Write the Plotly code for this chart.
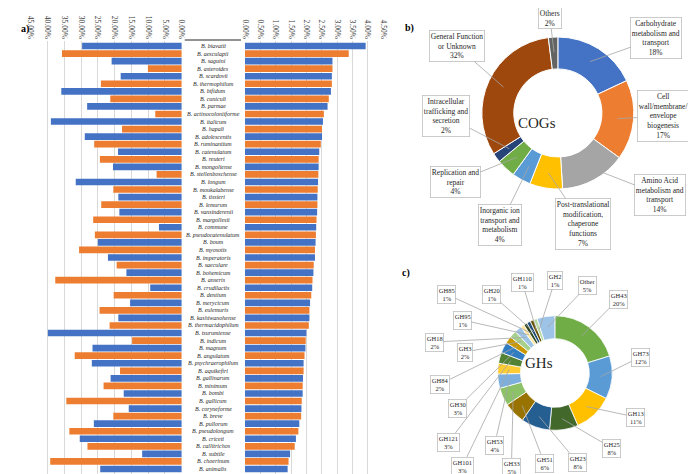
import math
import plotly.graph_objects as go

W, H = 696, 474
FONT = "Liberation Serif"

# ---------------- data: panel a ----------------
species = [
    "B. biavatii", "B. aesculapii", "B. saguini", "B. asteroides", "B. scardovii",
    "B. thermophilum", "B. bifidum", "B. cuniculi", "B. parmae", "B. actinocoloniiforme",
    "B. italicum", "B. hapali", "B. adolescentis", "B. ruminantium", "B. catenulatum",
    "B. reuteri", "B. mongoliense", "B. stellenboschense", "B. longum", "B. moukalabense",
    "B. tissieri", "B. lemurum", "B. vansinderenii", "B. margollesii", "B. commune",
    "B. pseudocatenulatum", "B. boum", "B. myosotis", "B. imperatoris", "B. saeculare",
    "B. bohemicum", "B. anseris", "B. crudilactis", "B. dentium", "B. merycicum",
    "B. eulemuris", "B. kashiwanohense", "B. thermacidophilum", "B. tsurumiense", "B. indicum",
    "B. magnum", "B. angulatum", "B. psychraerophilum", "B. aquikefiri", "B. gallinarum",
    "B. minimum", "B. bombi", "B. gallicum", "B. coryneforme", "B. breve",
    "B. pullorum", "B. pseudolongum", "B. criceti", "B. callitrichos", "B. subtile",
    "B. choerinum", "B. animalis",
]
left_pct = [29.7, 35.7, 20.9, 10.1, 18.2, 24.1, 35.9, 21.3, 28.2, 7.9,
            39.0, 17.8, 28.9, 26.1, 19.0, 24.4, 20.5, 7.5, 31.6, 20.4,
            18.9, 24.0, 18.6, 26.4, 6.8, 25.9, 25.0, 30.6, 22.0, 19.4,
            16.5, 37.7, 9.4, 20.3, 15.4, 24.5, 18.9, 21.5, 39.9, 14.8,
            26.6, 31.9, 26.8, 18.4, 21.2, 23.3, 17.3, 34.4, 15.8, 20.4,
            26.2, 33.5, 30.4, 28.1, 11.8, 39.2, 24.3]
right_pct = [3.93, 3.38, 2.85, 2.85, 2.83, 2.83, 2.80, 2.73, 2.69, 2.57,
             2.54, 2.51, 2.51, 2.47, 2.42, 2.40, 2.40, 2.39, 2.38, 2.37,
             2.36, 2.36, 2.35, 2.33, 2.32, 2.31, 2.30, 2.28, 2.28, 2.24,
             2.23, 2.20, 2.19, 2.16, 2.12, 2.10, 2.10, 2.08, 2.00, 1.98,
             1.97, 1.94, 1.91, 1.91, 1.89, 1.88, 1.88, 1.85, 1.84, 1.83,
             1.77, 1.74, 1.66, 1.62, 1.47, 1.42, 1.39]

# ---------------- data: panel b ----------------
cog_names = ["Carbohydrate metabolism and transport", "Cell wall/membrane/envelope biogenesis",
             "Amino Acid metabolism and transport",
             "Post-translational modification, chaperone functions",
             "Inorganic ion transport and metabolism", "Replication and repair",
             "Intracellular trafficking and secretion", "General Function or Unknown", "Others"]
cog_texts = ["Carbohydrate<br>metabolism and<br>transport", "Cell<br>wall/membrane/<br>envelope<br>biogenesis",
             "Amino Acid<br>metabolism and<br>transport",
             "Post-translational<br>modification,<br>chaperone<br>functions",
             "Inorganic ion<br>transport and<br>metabolism", "Replication and<br>repair",
             "Intracellular<br>trafficking and<br>secretion", "General Function<br>or Unknown", "Others"]
cog_values = [18, 17, 14, 7, 4, 4, 2, 32, 2]

# ---------------- data: panel c ----------------
gh_names = ["GH43", "GH73", "GH13", "GH25", "GH23", "GH51", "GH33", "GH53", "GH101", "GH121",
            "GH30", "GH84", "GH3", "GH18", "GH95", "GH85", "GH20", "GH110", "GH2", "Other"]
gh_values = [20, 12, 11, 8, 8, 6, 5, 4, 3, 3, 3, 2, 2, 2, 1, 1, 1, 1, 1, 5]

# ---------------- styles ----------------
BLUE, ORANGE = "#4472C4", "#ED7D31"
bar_colors = [BLUE if i % 2 == 0 else ORANGE for i in range(len(species))]
cog_colors = ["#4472C4", "#ED7D31", "#A5A5A5", "#FFC000", "#5B9BD5", "#70AD47",
              "#264478", "#9E480E", "#636363"]
gh_colors = ["#70AD47", "#5B9BD5", "#FFC000", "#43682B", "#255E91", "#997300",
             "#8CC168", "#7CAFDD", "#FFCD33", "#548235", "#327DC2", "#C99700",
             "#A9D18E", "#9DC3E6", "#FFE699", "#2D4620", "#1F4E79", "#665000",
             "#B5D9A0", "#9DC3E6"]

# text-box centres (pixels) for callouts
cog_boxes = [(652, 30), (659, 108), (656, 187), (578, 216), (495, 217),
             (450, 174), (441, 108), (451, 38), (545, 10)]
gh_boxes = [(614, 291), (636, 349), (631, 409), (607, 440), (572, 454), (539, 455),
            (506, 459), (489, 437), (457, 458), (443, 434), (452, 400), (435, 376),
            (460, 344), (429, 334), (457, 312), (441, 286), (486, 286), (517, 274),
            (550, 272), (583, 277)]

COG_C, COG_R, COG_HOLE = (553, 105), 77, 0.58
GH_C, GH_R, GH_HOLE = (550, 365), 58, 0.6


def px(x, y):
    return x / W, 1 - y / H


fig = go.Figure()
fig.add_trace(go.Bar(y=species, x=[v / 100 for v in left_pct], orientation="h",
                     xaxis="x", yaxis="y", marker=dict(color=bar_colors, line=dict(width=0)),
                     showlegend=False))
fig.add_trace(go.Bar(y=species, x=[v / 100 for v in right_pct], orientation="h",
                     xaxis="x2", yaxis="y", marker=dict(color=bar_colors, line=dict(width=0)),
                     showlegend=False))


def pie_domain(c, r):
    x0, y0 = px(c[0] - r, c[1] + r)
    x1, y1 = px(c[0] + r, c[1] - r)
    return dict(x=[x0, x1], y=[y0, y1])


fig.add_trace(go.Pie(labels=cog_names, values=cog_values, sort=False, direction="clockwise",
                     hole=COG_HOLE, textinfo="none", domain=pie_domain(COG_C, COG_R),
                     marker=dict(colors=cog_colors, line=dict(color="white", width=1)),
                     showlegend=False))
fig.add_trace(go.Pie(labels=gh_names, values=gh_values, sort=False, direction="clockwise",
                     hole=GH_HOLE, textinfo="none", domain=pie_domain(GH_C, GH_R),
                     marker=dict(colors=gh_colors, line=dict(color="white", width=0.8)),
                     showlegend=False))

annotations = []
for name in species:
    annotations.append(dict(x=204 / W, xref="paper", y=name, yref="y", text=f"<i>{name}</i>",
                            showarrow=False, xanchor="center", yanchor="middle",
                            font=dict(family=FONT, size=6, color="#262626")))


def callouts(values, texts, boxes, c, r, hole, size):
    total = sum(values)
    cum = 0
    rr = r * (1 + hole) / 2
    for v, t, (tx, ty) in zip(values, texts, boxes):
        th = 2 * math.pi * (cum + v / 2) / total
        cum += v
        hx = c[0] + rr * math.sin(th)
        hy = c[1] - rr * math.cos(th)
        xx, yy = px(hx, hy)
        annotations.append(dict(x=xx, y=yy, xref="paper", yref="paper", text=t,
                                showarrow=True, arrowhead=0, arrowwidth=0.8,
                                arrowcolor="#A6A6A6", ax=tx - hx, ay=ty - hy,
                                bordercolor="#BFBFBF", borderwidth=0.8, borderpad=1,
                                bgcolor="white", align="center",
                                font=dict(family=FONT, size=size, color="#262626")))


callouts(cog_values, [f"{t}<br>{v}%" for t, v in zip(cog_texts, cog_values)],
         cog_boxes, COG_C, COG_R, COG_HOLE, 7.5)
callouts(gh_values, [f"{n}<br>{v}%" for n, v in zip(gh_names, gh_values)],
         gh_boxes, GH_C, GH_R, GH_HOLE, 6.5)

for t, (x, y) in [("COGs", COG_C), ("GHs", GH_C)]:
    xx, yy = px(x, y)
    annotations.append(dict(x=xx, y=yy, xref="paper", yref="paper", text=t, showarrow=False,
                            font=dict(family=FONT, size=15, color="#262626")))
for t, (x, y) in [("a)", (7, 13)), ("b)", (403, 12)), ("c)", (399, 265))]:
    xx, yy = px(x, y)
    annotations.append(dict(x=xx, y=yy, xref="paper", yref="paper", text=f"<b>{t}</b>",
                            showarrow=False, font=dict(family=FONT, size=10, color="black")))

shapes = []
for y, w, col in [(32, 1.2, "#262626"), (467, 2, "#595959")]:
    x0, yy = px(175, y)
    x1, _ = px(232, y)
    shapes.append(dict(type="line", xref="paper", yref="paper", x0=x0, x1=x1, y0=yy, y1=yy,
                       line=dict(color=col, width=w)))

tickfont = dict(family=FONT, size=7.5, color="#404040")
common_x = dict(side="top", tickformat=".2%", tickangle=90, showgrid=True, gridcolor="#D9D9D9",
                gridwidth=1, zeroline=False, showline=False, ticks="", tickfont=tickfont,
                anchor="y", fixedrange=True)
fig.update_layout(
    width=W, height=H, margin=dict(l=0, r=0, t=0, b=0),
    paper_bgcolor="white", plot_bgcolor="white",
    bargap=0.12, showlegend=False,
    xaxis=dict(domain=[19 / W, 172 / W], range=[0.45, 0], dtick=0.05, **common_x),
    xaxis2=dict(domain=[236 / W, 376 / W], range=[0, 0.045], dtick=0.005, **common_x),
    yaxis=dict(domain=[1 - 466 / H, 1 - 33 / H], categoryorder="array", categoryarray=species,
               autorange="reversed", showticklabels=False, showgrid=False, zeroline=False,
               showline=False),
    annotations=annotations, shapes=shapes,
    font=dict(family=FONT),
)
fig.write_html("out.html")
